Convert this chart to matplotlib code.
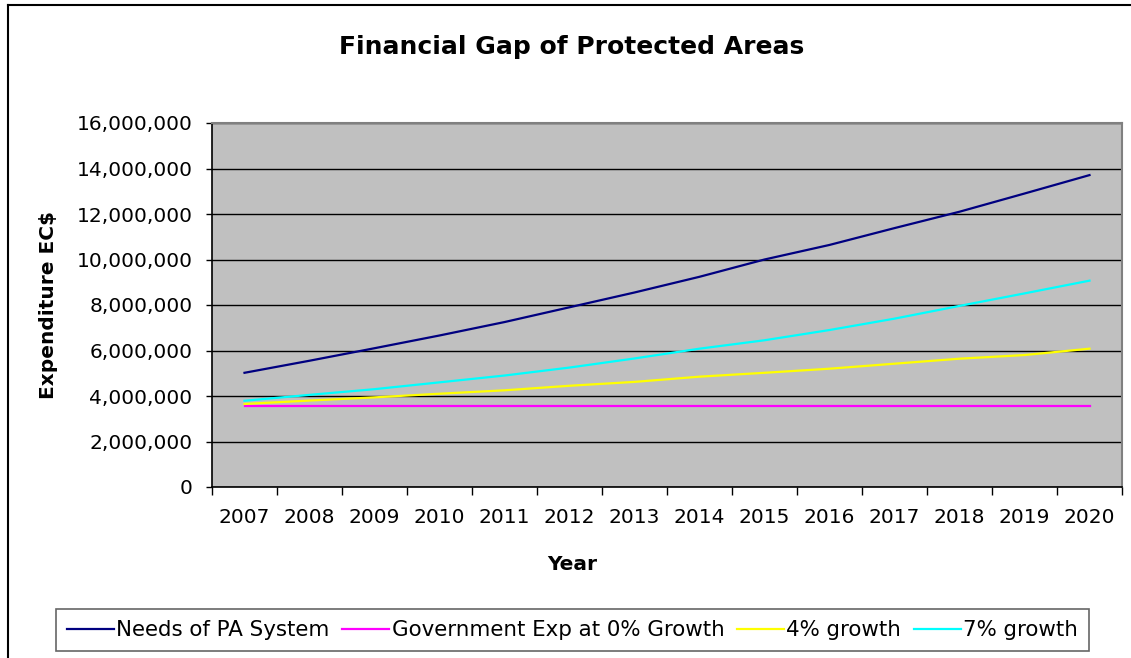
import matplotlib.pyplot as plt
from matplotlib.lines import Line2D
from matplotlib.ticker import FuncFormatter
import numpy as np

plt.rcParams['font.family'] = ['DejaVu Sans']

years = [2007, 2008, 2009, 2010, 2011, 2012, 2013, 2014, 2015, 2016, 2017, 2018, 2019, 2020]
needs = [5.02, 5.55, 6.10, 6.66, 7.25, 7.90, 8.55, 9.24, 10.00, 10.64, 11.38, 12.10, 12.90, 13.71]
gov_0 = [3.56] * 14
growth_4 = [3.65, 3.80, 3.94, 4.10, 4.25, 4.45, 4.62, 4.85, 5.02, 5.20, 5.42, 5.64, 5.80, 6.08]
growth_7 = [3.79, 4.05, 4.30, 4.60, 4.90, 5.25, 5.65, 6.08, 6.45, 6.90, 7.40, 7.96, 8.51, 9.07]

series = [
    ("Needs of PA System", needs, "#000080"),
    ("Government Exp at 0% Growth", gov_0, "#FF00FF"),
    ("4% growth", growth_4, "#FFFF00"),
    ("7% growth", growth_7, "#00FFFF"),
]

W, H = 1131, 658
fig = plt.figure(figsize=(W / 100, H / 100), dpi=100)
ax = fig.add_axes([212 / W, 1 - 487 / H, (1122 - 212) / W, (487 - 123) / H])
ax.set_facecolor("#C0C0C0")

x = np.arange(len(years))
for name, vals, col in series:
    ax.plot(x, np.array(vals) * 1e6, color=col, lw=1.6, label=name)

ax.set_xlim(-0.5, len(years) - 0.5)
ax.set_ylim(0, 16e6)
ax.set_yticks(np.arange(0, 16e6 + 1, 2e6))
ax.yaxis.set_major_formatter(FuncFormatter(lambda v, p: f"{v:,.0f}"))
ax.grid(axis="y", color="black", lw=1.0)
ax.set_axisbelow(True)

ax.set_xticks(x)
ax.set_xticklabels([str(y) for y in years])
ax.set_xticks(np.arange(-0.5, len(years)), minor=True)
ax.tick_params(axis="x", which="major", length=0, pad=15, labelsize=14.5)
ax.tick_params(axis="x", which="minor", length=5.5, width=1, direction="out")
ax.tick_params(axis="y", length=4, width=1, pad=10, labelsize=14.5)

for s in ["top", "right"]:
    ax.spines[s].set_color("#808080")
    ax.spines[s].set_linewidth(1.5)
for s in ["left", "bottom"]:
    ax.spines[s].set_color("black")
    ax.spines[s].set_linewidth(1.2)

ax.set_ylabel("Expenditure EC$", fontsize=14.5, fontweight="bold", labelpad=13)
fig.text(572 / W, 1 - 565 / H, "Year", ha="center", va="center", fontsize=14.5, fontweight="bold")
fig.text(572 / W, 1 - 47 / H, "Financial Gap of Protected Areas", ha="center", va="center",
         fontsize=18, fontweight="bold")

# chart area border: only the left and top edges fall inside the picture
fig.add_artist(Line2D([8 / W, 8 / W], [0, 1 - 5 / H], transform=fig.transFigure, color="black", lw=1.5))
fig.add_artist(Line2D([8 / W, 1], [1 - 5 / H, 1 - 5 / H], transform=fig.transFigure, color="black", lw=1.5))

leg = fig.legend(loc="center", bbox_to_anchor=((56 + 1089) / 2 / W, 1 - 630 / H), ncol=4,
                 fontsize=15.4, frameon=True, fancybox=False, edgecolor="#404040",
                 handlelength=2.2, handletextpad=0.1, columnspacing=0.6, borderpad=0.5)
leg.get_frame().set_linewidth(1.2)

fig.savefig("out.png", dpi=100)
